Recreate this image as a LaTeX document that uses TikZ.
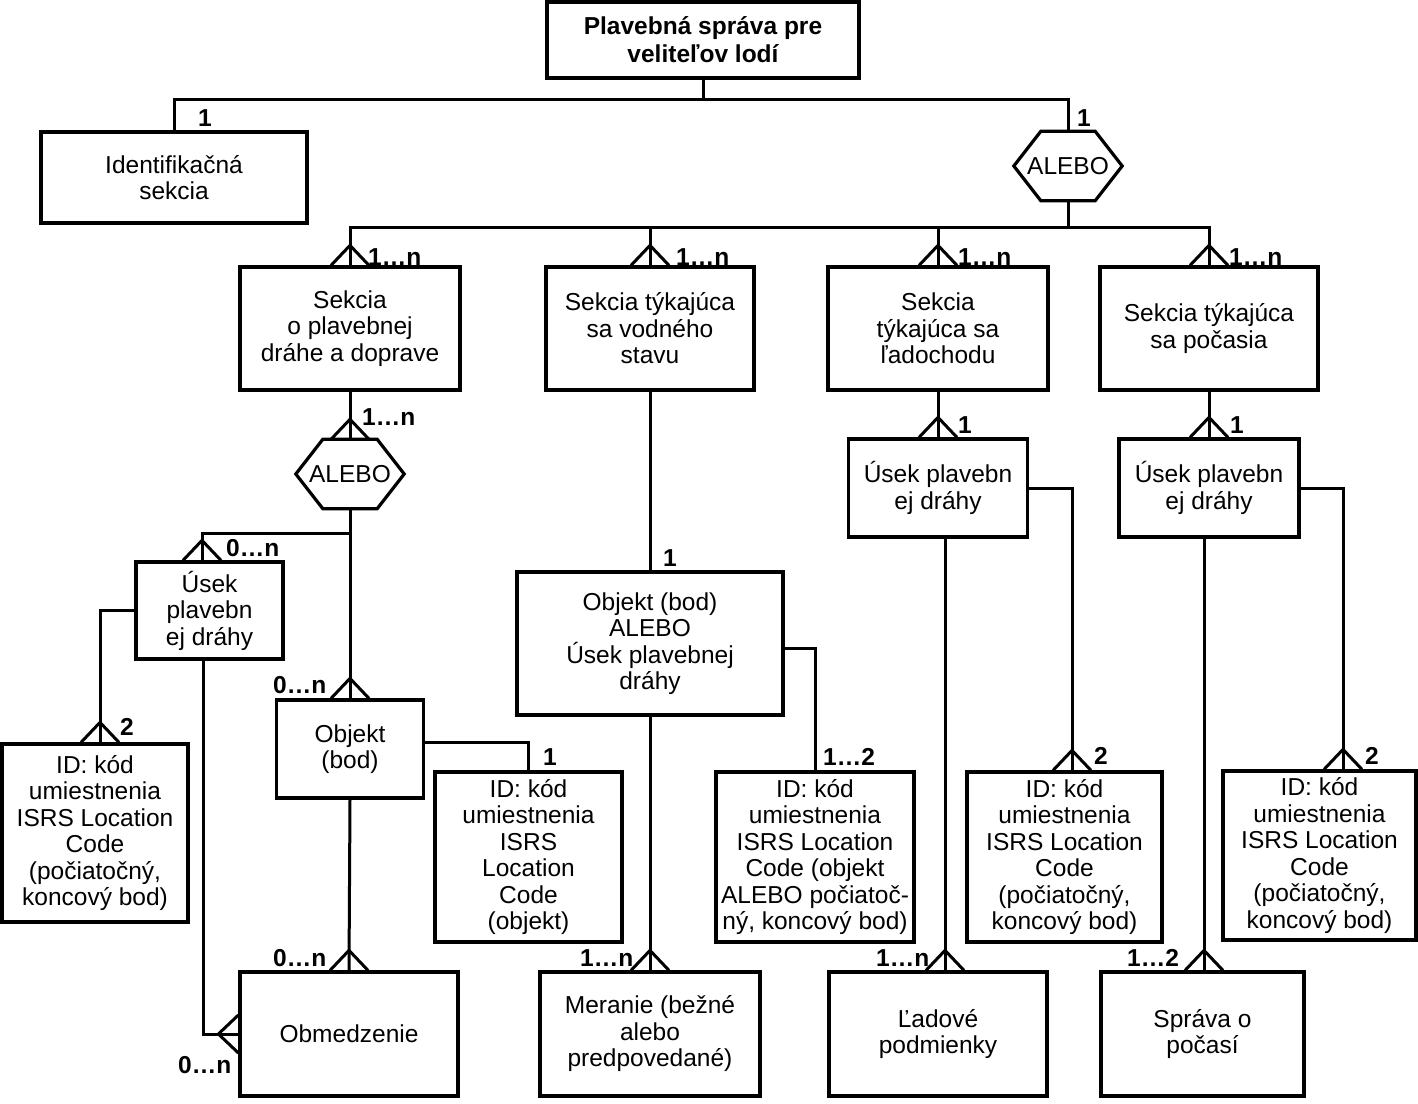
\documentclass[tikz,border=0pt]{standalone}
\usepackage{fontspec}
\setmainfont{Liberation Sans}
\usetikzlibrary{calc}
\tikzset{
  box/.style={draw, line width=3.2pt, rectangle, inner sep=0pt, align=center, font=\fontsize{24.5}{26.5}\selectfont},
  hexbox/.style={rectangle, inner sep=0pt, align=center, minimum width=108, minimum height=69, font=\fontsize{24.5}{26.5}\selectfont},
  conn/.style={line width=3pt, line join=miter},
  lbl/.style={inner sep=0pt, anchor=west, font=\bfseries\fontsize{24.5}{26.5}\selectfont},
}
\newcommand\crowv[1]{\draw[conn] ($(#1)+(-19,0)$) -- ($(#1)+(0,-20)$) -- ($(#1)+(19,0)$);}
\newcommand\hexout[1]{\draw[line width=3.2pt, line join=miter] (#1.west) -- ([xshift=27]#1.north west) -- ([xshift=-27]#1.north east) -- (#1.east) -- ([xshift=-27]#1.south east) -- ([xshift=27]#1.south west) -- cycle;}
\begin{document}
\begin{tikzpicture}[x=1pt,y=-1pt]
\useasboundingbox (0,0) rectangle (1418,1103);
% boxes
\node[box, minimum width=312, minimum height=76, font=\bfseries\fontsize{24.5}{28}\selectfont] (top) at (703,40) {Plavebná správa pre\\veliteľov lodí};
\node[box, minimum width=266, minimum height=91] (ident) at (174,177.5) {Identifikačná\\sekcia};
\node[hexbox] (hex1) at (1068,166) {ALEBO};
\hexout{hex1}
\node[box, minimum width=220, minimum height=123] (s1) at (350,328.5) {Sekcia\\o plavebnej\\dráhe a doprave};
\node[box, minimum width=208, minimum height=123] (s2) at (650,328.5) {Sekcia týkajúca\\sa vodného\\stavu};
\node[box, minimum width=220, minimum height=123] (s3) at (938,328.5) {Sekcia\\týkajúca sa\\ľadochodu};
\node[box, minimum width=218, minimum height=123] (s4) at (1209,328.5) {Sekcia týkajúca\\sa počasia};
\node[hexbox] (hex2) at (350,474) {ALEBO};
\hexout{hex2}
\node[box, minimum width=147, minimum height=97] (u1) at (209.5,610.5) {Úsek\\plavebn\\ej dráhy};
\node[box, minimum width=186, minimum height=178] (id1) at (95,833) {ID: kód\\umiestnenia\\ISRS Location\\Code\\(počiatočný,\\koncový bod)};
\node[box, minimum width=147, minimum height=98] (obj) at (350,749) {Objekt\\(bod)};
\node[box, minimum width=187, minimum height=170] (id2) at (528.5,857) {ID: kód\\umiestnenia\\ISRS\\Location\\Code\\(objekt)};
\node[box, minimum width=218, minimum height=124] (obmed) at (349,1034) {Obmedzenie};
\node[box, minimum width=266, minimum height=143] (oa) at (650,643.5) {Objekt (bod)\\ALEBO\\Úsek plavebnej\\dráhy};
\node[box, minimum width=198, minimum height=170] (id3) at (815,857) {ID: kód\\umiestnenia\\ISRS Location\\Code (objekt\\ALEBO počiatoč-\\ný, koncový bod)};
\node[box, minimum width=220, minimum height=124] (mer) at (650,1034) {Meranie (bežné\\alebo\\predpovedané)};
\node[box, minimum width=179, minimum height=98] (u3) at (938,488) {Úsek plavebn\\ej dráhy};
\node[box, minimum width=195, minimum height=170] (id4) at (1064.5,857) {ID: kód\\umiestnenia\\ISRS Location\\Code\\(počiatočný,\\koncový bod)};
\node[box, minimum width=218, minimum height=124] (lad) at (938,1034) {Ľadové\\podmienky};
\node[box, minimum width=180, minimum height=98] (u4) at (1209,488) {Úsek plavebn\\ej dráhy};
\node[box, minimum width=193, minimum height=169] (id5) at (1319.5,855.5) {ID: kód\\umiestnenia\\ISRS Location\\Code\\(počiatočný,\\koncový bod)};
\node[box, minimum width=203, minimum height=124] (spr) at (1202.5,1034) {Správa o\\počasí};
% helper coordinates
\coordinate (b1) at (703,99);
\coordinate (b2) at (1068,227);
\coordinate (j1) at (350,533);
\coordinate (u1top) at ($(u1.north)+(-7.5,0)$);
\coordinate (u1bot) at ($(u1.south)+(-6.5,0)$);
\coordinate (id1top) at ($(id1.north)+(5,0)$);
\coordinate (id4top) at ($(id4.north)+(7.5,0)$);
\coordinate (id5top) at ($(id5.north)+(23.5,0)$);
\coordinate (u3b) at ($(u3.south)+(7,0)$);
\coordinate (ladtop) at (u3b |- lad.north);
\coordinate (u4b) at ($(u4.south)+(-5,0)$);
\coordinate (sprtop) at (u4b |- spr.north);
% connectors
\draw[conn] (top.south) -- (b1);
\draw[conn] (ident.north) |- (b1) -| (hex1.north);
\draw[conn] (hex1.south) -- (b2);
\draw[conn] (s1.north) |- (b2);
\draw[conn] (s2.north) |- (b2);
\draw[conn] (s3.north) |- (b2);
\draw[conn] (s4.north) |- (b2);
\draw[conn] (s1.south) -- (hex2.north);
\draw[conn] (hex2.south) -- (obj.north);
\draw[conn] (j1) -| (u1top);
\draw[conn] (u1.west) -| (id1top);
\draw[conn] (u1bot) |- (obmed.west);
\draw[conn] ([yshift=7]obj.east) -| (id2.north);
\draw[conn] (obj.south) -- (obmed.north);
\draw[conn] (s2.south) -- (oa.north);
\draw[conn] ([yshift=-5]oa.east) -| (id3.north);
\draw[conn] (oa.south) -- (mer.north);
\draw[conn] (s3.south) -- (u3.north);
\draw[conn] (u3.east) -| (id4top);
\draw[conn] (u3b) -- (ladtop);
\draw[conn] (s4.south) -- (u4.north);
\draw[conn] (u4.east) -| (id5top);
\draw[conn] (u4b) -- (sprtop);
% crow's feet
\crowv{s1.north}
\crowv{s2.north}
\crowv{s3.north}
\crowv{s4.north}
\crowv{hex2.north}
\crowv{u1top}
\crowv{id1top}
\crowv{obj.north}
\crowv{obmed.north}
\crowv{mer.north}
\crowv{u3.north}
\crowv{id4top}
\crowv{ladtop}
\crowv{u4.north}
\crowv{id5top}
\crowv{sprtop}
\draw[conn] ($(obmed.west)+(0,-19)$) -- ($(obmed.west)+(-20,0)$) -- ($(obmed.west)+(0,19)$);
% labels
\node[lbl] (l1) at (198,118) {1};
\node[lbl] (l2) at (1077,118) {1};
\node[lbl] (l3) at (368,257) {1…n};
\node[lbl] (l4) at (676,257) {1…n};
\node[lbl] (l5) at (958,257) {1…n};
\node[lbl] (l6) at (1229,257) {1…n};
\node[lbl] (l7) at (362,417) {1…n};
\node[lbl] (l8) at (226,548) {0…n};
\node[lbl] (l9) at (120,727) {2};
\node[lbl] (l10) at (273,685) {0…n};
\node[lbl] (l11) at (543,757) {1};
\node[lbl] (l12) at (273,958) {0…n};
\node[lbl] (l13) at (178,1065) {0…n};
\node[lbl] (l14) at (663,558) {1};
\node[lbl] (l15) at (823,757) {1…2};
\node[lbl] (l16) at (580,958) {1…n};
\node[lbl] (l17) at (958,425) {1};
\node[lbl] (l18) at (1094,756) {2};
\node[lbl] (l19) at (1230,425) {1};
\node[lbl] (l20) at (1365,756) {2};
\node[lbl] (l21) at (876,958) {1…n};
\node[lbl] (l22) at (1127,958) {1…2};
\end{tikzpicture}
\end{document}
